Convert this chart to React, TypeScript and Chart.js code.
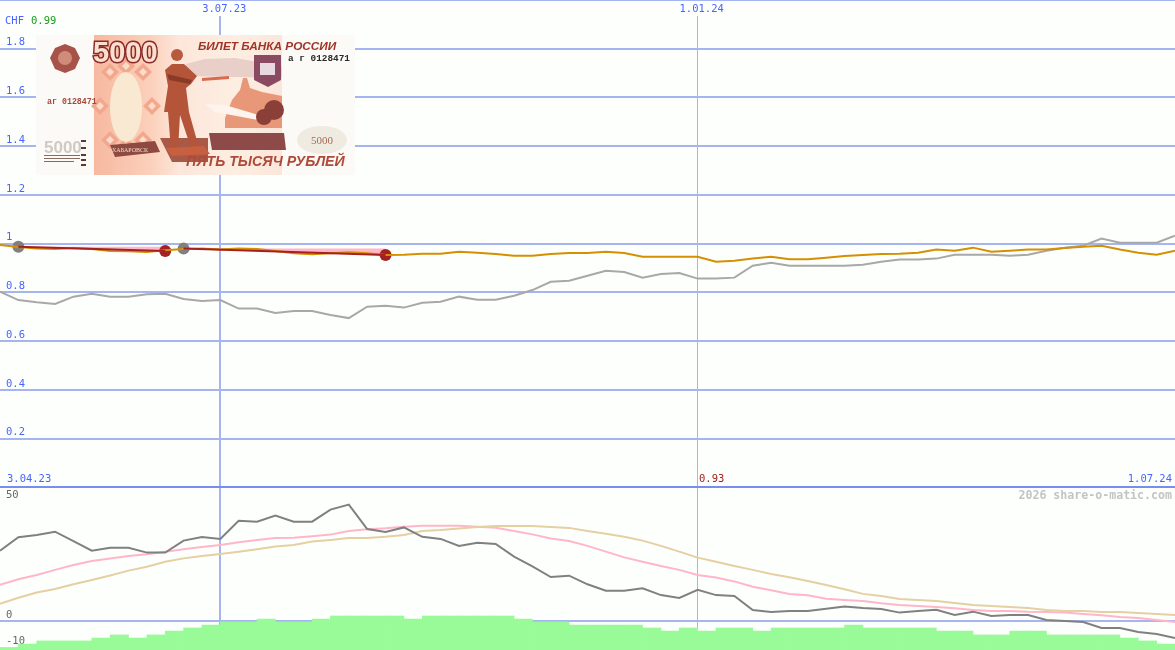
import React, { useEffect, useRef } from 'react';
import { Chart, registerables } from 'chart.js';

Chart.register(...registerables);

// Upper panel, CHF per 5000 RUB note, one value per period
const priceGrey = [
  0.803, 0.769, 0.76, 0.753, 0.783, 0.795, 0.783, 0.783, 0.793, 0.795, 0.773, 0.765, 0.769,
  0.734, 0.734, 0.716, 0.724, 0.724, 0.708, 0.695, 0.742, 0.746, 0.738, 0.758, 0.762, 0.783,
  0.77, 0.77, 0.787, 0.81, 0.844, 0.848, 0.869, 0.889, 0.884, 0.861, 0.876, 0.88, 0.857,
  0.857, 0.861, 0.91, 0.922, 0.91, 0.91, 0.91, 0.91, 0.914, 0.926, 0.935, 0.935, 0.939,
  0.955, 0.955, 0.955, 0.951, 0.955, 0.971, 0.984, 0.992, 1.021, 1.004, 1.004, 1.004, 1.033,
];
const priceOrange = [
  0.995, 0.987, 0.981, 0.978, 0.983, 0.978, 0.97, 0.969, 0.966, 0.973, 0.978, 0.98, 0.976,
  0.98, 0.978, 0.97, 0.961, 0.957, 0.961, 0.965, 0.961, 0.954, 0.955, 0.959, 0.959, 0.967,
  0.963, 0.958, 0.951, 0.951, 0.958, 0.962, 0.962, 0.967, 0.962, 0.947, 0.947, 0.947, 0.947,
  0.926, 0.93, 0.939, 0.947, 0.936, 0.936, 0.943, 0.95, 0.954, 0.958, 0.959, 0.963, 0.976,
  0.971, 0.984, 0.967, 0.971, 0.976, 0.976, 0.983, 0.988, 0.992, 0.976, 0.963, 0.955, 0.971,
];

// Red trade segments
const tradeStart = [1, 10];
const tradeEnd = [9, 21];
const tradeOpen = [0.988, 0.98];
const tradeClose = [0.97, 0.954];

// Lower panel
const oscGrey = [
  29.3, 34.9, 35.8, 37.2, 33.3, 29.3, 30.5, 30.5, 28.5, 28.5, 33.5, 35, 34.2, 41.8, 41.4, 43.9,
  41.4, 41.4, 46.4, 48.5, 38.3, 37.1, 39, 35.1, 34.2, 31.3, 32.6, 32.1, 26.8, 22.8, 18.3, 18.9,
  15.3, 12.6, 12.6, 13.6, 10.8, 9.6, 13, 10.8, 10.4, 4.6, 3.8, 4.2, 4.2, 5.1, 6, 5.4, 5, 3.5,
  4.2, 4.7, 2.5, 3.9, 2.1, 2.5, 2.5, 0.4, 0, -0.4, -2.9, -2.9, -4.6, -5.4, -7.1,
];
const oscPink = [
  15.1, 17.4, 19.2, 21.3, 23.3, 25, 26, 27.1, 27.8, 28.9, 29.9, 30.8, 31.7, 32.8, 33.8, 34.6,
  34.7, 35.3, 36, 37.5, 38.2, 38.6, 39.3, 39.7, 39.7, 39.7, 39.3, 38.9, 37.5, 36.1, 34.4, 33.3,
  31.3, 28.9, 26.5, 24.7, 22.9, 21.3, 19.2, 18.1, 16.5, 14.3, 12.8, 11.3, 10.7, 9.3, 8.8, 8.3,
  7.4, 6.7, 6.3, 5.8, 5.3, 4.6, 4.2, 4.2, 3.9, 3.8, 3.5, 2.9, 2.4, 1.7, 1.3, 0.4, -0.4,
];
const oscTan = [
  7.2, 9.7, 11.9, 13.3, 15.3, 17.1, 19, 21, 22.6, 24.7, 26.1, 27.1, 27.9, 28.9, 29.9, 31, 31.7,
  33.1, 33.8, 34.6, 34.6, 35.1, 35.8, 37.5, 37.9, 38.5, 39.2, 39.6, 39.6, 39.6, 39.2, 38.8,
  37.5, 36.4, 35.1, 33.5, 31.3, 28.9, 26.4, 24.7, 22.9, 21.3, 19.6, 18.2, 16.7, 15, 13.2, 11.3,
  10.4, 9.2, 8.8, 8.3, 7.5, 6.7, 6.3, 5.8, 5.4, 4.6, 4.2, 4.2, 3.8, 3.8, 3.3, 2.9, 2.5,
];
const oscBars = [
  -11, -9.6, -8.3, -8.3, -8.3, -7.1, -5.8, -7.1, -5.8, -4.2, -2.9, -1.7, -0.4, -0.4, 0.8, -0.4,
  -0.4, 0.8, 2.1, 2.1, 2.1, 2.1, 0.8, 2.1, 2.1, 2.1, 2.1, 2.1, 0.8, -0.4, -0.4, -1.7, -1.7,
  -1.7, -1.7, -2.9, -4.2, -2.9, -4.2, -2.9, -2.9, -4.2, -2.9, -2.9, -2.9, -2.9, -1.7, -2.9,
  -2.9, -2.9, -2.9, -4.2, -4.2, -5.8, -5.8, -4.2, -4.2, -5.8, -5.8, -5.8, -5.8, -7.1, -8.3, -9.6,
];

const xTickPositions = [12, 38];
const xTickLabels = ['3.07.23', '1.01.24'];
const priceGridValues = [0, 0.2, 0.4, 0.6, 0.8, 1, 1.2, 1.4, 1.6, 1.8, 2];
const priceTickLabels = ['', '0.2', '0.4', '0.6', '0.8', '1', '1.2', '1.4', '1.6', '1.8', ''];
// the -10 label sits a little lower on the original than its scale would put it
const oscTickValues = [-11, 0, 50];
const oscTickLabels = ['-10', '0', '50'];

const WIDTH = 1175;
const HEIGHT = 650;
const MONO = '"DejaVu Sans Mono", monospace';
const GRID = '#a6b4f0';
const PAPER = '#fdfffd';
const BLUE_TEXT = '#4a64ff';
const TRADE_RED = '#a52020';
const TRADE_PINK = '#ffb6c8';

const toPoints = (values: number[]) => values.map((y, x) => ({ x, y }));

// The axes sit inside the plot, so none of them may take room from it
const flushScale = (scale: any) => {
  if (scale.isHorizontal()) scale.height = 0;
  else scale.width = 0;
  scale.paddingTop = 0;
  scale.paddingBottom = 0;
  scale.paddingLeft = 0;
  scale.paddingRight = 0;
};

function text(ctx: CanvasRenderingContext2D, s: string, x: number, y: number, font: string, color: string, align: CanvasTextAlign = 'left') {
  ctx.font = font;
  ctx.fillStyle = color;
  ctx.textAlign = align;
  ctx.textBaseline = 'middle';
  ctx.fillText(s, x, y);
}

function poly(ctx: CanvasRenderingContext2D, pts: number[][], color: string) {
  ctx.fillStyle = color;
  ctx.beginPath();
  pts.forEach(([x, y], i) => (i ? ctx.lineTo(x, y) : ctx.moveTo(x, y)));
  ctx.closePath();
  ctx.fill();
}

// Rough drawing of the banknote picture that sits over the grid
function drawBanknote(ctx: CanvasRenderingContext2D) {
  ctx.save();
  ctx.fillStyle = '#fbfaf6';
  ctx.fillRect(36, 35, 319, 140);

  const body = ctx.createLinearGradient(94, 0, 282, 0);
  body.addColorStop(0, '#f7b8a0');
  body.addColorStop(0.3, '#fbd0ba');
  body.addColorStop(0.45, '#fde6da');
  body.addColorStop(0.75, '#fdeee2');
  body.addColorStop(1, '#fbe6da');
  ctx.fillStyle = body;
  ctx.fillRect(94, 35, 188, 140);

  // guilloche diamonds round the watermark
  for (const [cx, cy] of [[110, 72], [143, 72], [126, 66], [110, 140], [143, 140], [126, 146], [100, 106], [152, 106]]) {
    poly(ctx, [[cx, cy - 9], [cx + 9, cy], [cx, cy + 9], [cx - 9, cy]], '#f3a88e');
    poly(ctx, [[cx, cy - 4], [cx + 4, cy], [cx, cy + 4], [cx - 4, cy]], '#fbdccb');
  }

  // watermark oval
  ctx.fillStyle = '#f9e9d2';
  ctx.beginPath();
  ctx.ellipse(126, 107, 16, 35, 0, 0, Math.PI * 2);
  ctx.fill();

  // hills and river
  poly(ctx, [[186, 64], [205, 59], [235, 58], [282, 66], [282, 78], [186, 76]], '#e8d0c8');
  poly(ctx, [[225, 118], [232, 100], [240, 90], [243, 78], [247, 78], [250, 88], [262, 92], [282, 96], [282, 128], [225, 128]], '#e89878');
  poly(ctx, [[205, 104], [225, 105], [262, 116], [258, 120], [215, 112]], '#fdf4ee');
  poly(ctx, [[202, 78], [229, 76], [229, 79], [202, 81]], '#d86a50');
  ctx.fillStyle = '#8a4038';
  ctx.beginPath();
  ctx.arc(274, 110, 10, 0, Math.PI * 2);
  ctx.arc(264, 117, 8, 0, Math.PI * 2);
  ctx.fill();

  // pedestal
  poly(ctx, [[209, 133], [284, 133], [286, 150], [212, 150]], '#8e4a48');
  poly(ctx, [[160, 138], [208, 138], [208, 162], [172, 162]], '#a85a48');
  poly(ctx, [[110, 145], [155, 141], [160, 152], [115, 157]], '#8e4a40');
  text(ctx, 'ХАБАРОВСК', 112, 150, '6px "Liberation Serif"', '#f0d8c8');

  // statue
  ctx.fillStyle = '#b85a3c';
  ctx.beginPath();
  ctx.arc(177, 55, 6, 0, Math.PI * 2);
  ctx.fill();
  poly(ctx, [[165, 70], [172, 64], [184, 64], [197, 76], [191, 84], [186, 88], [189, 112], [199, 148], [191, 148], [180, 115], [178, 150], [171, 150], [168, 112], [164, 112], [168, 86]], '#b4553a');
  poly(ctx, [[167, 74], [192, 80], [190, 84], [169, 80]], '#8a3a28');
  poly(ctx, [[166, 148], [204, 146], [210, 154], [172, 156]], '#c8603f');

  // denomination and medallion
  ctx.font = 'bold 29px "Liberation Sans"';
  ctx.textAlign = 'left';
  ctx.textBaseline = 'middle';
  ctx.lineWidth = 3;
  ctx.strokeStyle = '#8a2a28';
  ctx.strokeText('5000', 93, 54);
  ctx.fillStyle = '#fbe0d2';
  ctx.fillText('5000', 93, 54);
  poly(ctx, [[65, 44], [75, 48], [80, 58], [75, 69], [65, 73], [55, 69], [50, 58], [55, 48]], '#a8534a');
  ctx.fillStyle = '#d08c78';
  ctx.beginPath();
  ctx.arc(65, 58, 7, 0, Math.PI * 2);
  ctx.fill();

  // crest
  poly(ctx, [[254, 55], [281, 55], [281, 80], [268, 87], [254, 80]], '#8a4a62');
  ctx.fillStyle = '#e8d8e0';
  ctx.fillRect(260, 63, 15, 12);

  text(ctx, 'БИЛЕТ БАНКА РОССИИ', 198, 46.5, 'italic bold 11.8px "Liberation Sans"', '#a03428');
  text(ctx, 'а г 0128471', 288, 59, 'bold 9.4px "Liberation Mono"', '#2a2a2a');
  text(ctx, 'аг 0128471', 47, 102, 'bold 8.3px "Liberation Mono"', '#a8483c');
  text(ctx, 'ПЯТЬ ТЫСЯЧ РУБЛЕЙ', 186, 162, 'italic bold 14.2px "Liberation Sans"', '#b04a38');

  // small corner details
  ctx.fillStyle = '#f0ebe0';
  ctx.beginPath();
  ctx.ellipse(322, 140, 25, 14, 0, 0, Math.PI * 2);
  ctx.fill();
  text(ctx, '5000', 322, 141, '11px "Liberation Serif"', '#a86a58', 'center');
  text(ctx, '5000', 44, 148, 'bold 17px "Liberation Sans"', '#cfcac4');
  ctx.fillStyle = '#8a6a60';
  ctx.fillRect(44, 155, 36, 1);
  ctx.fillRect(44, 158, 36, 1);
  ctx.fillRect(44, 161, 30, 1);
  ctx.fillStyle = '#5a3a34';
  for (const y of [140, 147, 154, 159, 164]) ctx.fillRect(81, y, 5, 2);
  ctx.restore();
}

const banknotePlugin = {
  id: 'banknote',
  beforeDatasetsDraw(chart: Chart) {
    const { ctx } = chart;
    // date labels stand in a clear strip at the top of their grid lines
    xTickPositions.forEach((pos, i) => {
      const px = chart.scales.x.getPixelForValue(pos);
      ctx.fillStyle = PAPER;
      ctx.fillRect(px - 4, 1, 8, 15);
      text(ctx, xTickLabels[i], px + 4, 9, `10.5px ${MONO}`, BLUE_TEXT, 'center');
    });
    drawBanknote(ctx);
  },
};

const captionPlugin = {
  id: 'captions',
  afterDraw(chart: Chart) {
    const { ctx } = chart;
    const font = `10.5px ${MONO}`;
    ctx.save();
    text(ctx, 'CHF', 5, 21, font, BLUE_TEXT);
    text(ctx, '0.99', 31, 21, font, '#18a018');
    text(ctx, '3.04.23', 7, 479, font, BLUE_TEXT);
    text(ctx, '1.07.24', 1172, 479, font, BLUE_TEXT, 'right');
    text(ctx, '0.93', 699, 479, font, TRADE_RED);
    text(ctx, '2026 share-o-matic.com', 1172, 496, `bold 11.6px ${MONO}`, '#c4c4c4', 'right');
    ctx.restore();
  },
};

const lineStyle = { borderWidth: 2, pointRadius: 0, tension: 0, fill: false };

export default function App() {
  const canvasRef = useRef<HTMLCanvasElement>(null);

  useEffect(() => {
    if (!canvasRef.current) return;

    // Earlier datasets paint on top: red line, orange, dots, then the pink wedge
    const tradeLines: any[] = [];
    const tradeDots: any[] = [];
    const tradeTops: any[] = [];
    tradeStart.forEach((start, i) => {
      const end = tradeEnd[i];
      const points = [{ x: start, y: tradeOpen[i] }, { x: end, y: tradeClose[i] }];
      tradeLines.push({ type: 'line', data: points, borderColor: TRADE_RED, ...lineStyle, xAxisID: 'x', yAxisID: 'y' });
      tradeDots.push({
        type: 'line',
        data: points,
        borderWidth: 0,
        borderColor: 'transparent',
        tension: 0,
        pointRadius: 6,
        pointBorderWidth: 0,
        pointBackgroundColor: ['#808080', TRADE_RED],
        fill: false,
        xAxisID: 'x',
        yAxisID: 'y',
      });
      tradeTops.push({
        type: 'line',
        data: [{ x: start, y: tradeOpen[i] }, { x: end, y: tradeOpen[i] }],
        borderWidth: 0,
        borderColor: 'transparent',
        pointRadius: 0,
        tension: 0,
        fill: { target: tradeStart.length + 1 + i, above: TRADE_PINK, below: TRADE_PINK },
        xAxisID: 'x',
        yAxisID: 'y',
      });
    });

    const chart = new Chart(canvasRef.current, {
      type: 'line',
      data: {
        labels: oscBars.map((_, i) => String(i)),
        datasets: [
          ...tradeLines,
          { type: 'line', data: toPoints(priceOrange), borderColor: '#d49000', ...lineStyle, xAxisID: 'x', yAxisID: 'y' },
          ...tradeDots,
          ...tradeTops,
          { type: 'line', data: toPoints(priceGrey), borderColor: '#a8a8a8', ...lineStyle, xAxisID: 'x', yAxisID: 'y' },
          { type: 'line', data: toPoints(oscGrey), borderColor: '#808080', ...lineStyle, xAxisID: 'x', yAxisID: 'y2' },
          { type: 'line', data: toPoints(oscTan), borderColor: '#e5cfa3', ...lineStyle, xAxisID: 'x', yAxisID: 'y2' },
          { type: 'line', data: toPoints(oscPink), borderColor: TRADE_PINK, ...lineStyle, xAxisID: 'x', yAxisID: 'y2' },
          {
            type: 'bar',
            data: oscBars,
            backgroundColor: '#98fb98',
            barPercentage: 1,
            categoryPercentage: 1,
            grouped: false,
            base: -12.08,
            xAxisID: 'xBars',
            yAxisID: 'y2',
          },
        ],
      } as any,
      options: {
        animation: false,
        responsive: false,
        devicePixelRatio: 1,
        layout: { autoPadding: false, padding: 0 },
        plugins: { legend: { display: false }, tooltip: { enabled: false } },
        scales: {
          x: {
            type: 'linear',
            position: 'top',
            min: 0,
            max: 64,
            afterFit: flushScale,
            afterBuildTicks: (scale: any) => { scale.ticks = xTickPositions.map((value) => ({ value })); },
            border: { display: false },
            grid: {
              color: GRID,
              drawTicks: false,
              lineWidth: (c: any) => (c.tick?.value === xTickPositions[0] ? 2 : 1),
            },
            ticks: { display: false },
          },
          xBars: { type: 'category', display: false, offset: true },
          y: {
            position: 'left',
            min: -0.6667,
            max: 2,
            afterFit: flushScale,
            afterBuildTicks: (scale: any) => { scale.ticks = priceGridValues.map((value) => ({ value })); },
            border: { display: false },
            grid: {
              drawTicks: false,
              lineWidth: 2,
              color: (c: any) => (c.tick?.value === 0 ? '#7a8cee' : GRID),
            },
            ticks: {
              mirror: true,
              padding: 6,
              labelOffset: -6,
              color: BLUE_TEXT,
              font: { family: MONO, size: 10.5 },
              callback: (value: any) => priceTickLabels[priceGridValues.indexOf(Number(value))] ?? '',
            },
          },
          y2: {
            position: 'left',
            min: -12.08,
            max: 258.75,
            afterFit: flushScale,
            afterBuildTicks: (scale: any) => { scale.ticks = oscTickValues.map((value) => ({ value })); },
            border: { display: false },
            grid: {
              drawTicks: false,
              lineWidth: 2,
              color: (c: any) => (c.tick?.value === 0 ? GRID : 'transparent'),
            },
            ticks: {
              mirror: true,
              padding: 6,
              labelOffset: -6,
              color: '#666666',
              font: { family: MONO, size: 10.5 },
              callback: (value: any) => oscTickLabels[oscTickValues.indexOf(Number(value))] ?? '',
            },
          },
        },
      } as any,
      plugins: [banknotePlugin, captionPlugin],
    });

    return () => chart.destroy();
  }, []);

  return (
    <div style={{ position: 'absolute', left: 0, top: 0, width: WIDTH, height: HEIGHT, background: PAPER }}>
      <canvas ref={canvasRef} width={WIDTH} height={HEIGHT} style={{ display: 'block' }} />
    </div>
  );
}
